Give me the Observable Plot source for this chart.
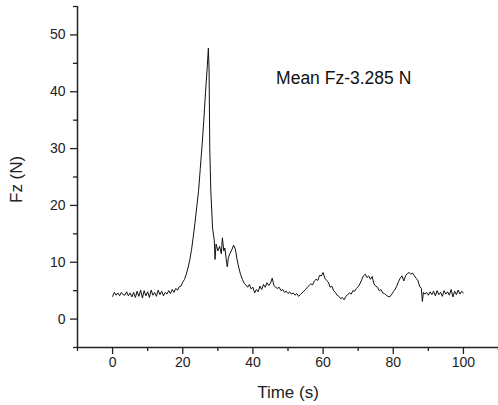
<!DOCTYPE html>
<html><head><meta charset="utf-8">
<script src="https://cdn.jsdelivr.net/npm/d3@7"></script>
<script src="https://cdn.jsdelivr.net/npm/@observablehq/plot@0.6"></script>
<style>body{margin:0;background:#fff} svg{display:block;background:#fff}</style>
</head><body><div id="chart"></div>
<script>
const time = [0,0.5,1,1.5,2,2.5,3,3.5,4,4.5,5,5.5,6,6.5,7,7.5,8,8.5,9,9.5,10,10.5,11,11.5,12,12.5,13,13.5,14,14.5,15,15.5,16,16.5,17,17.5,18,18.5,19,19.5,20,20.5,21,21.5,22,22.5,23,23.5,24,24.5,25,25.5,26,26.5,27,27.3,27.5,27.7,28,28.5,29,29.2,29.5,30,30.5,31,31.3,31.7,32,32.5,32.7,33,33.5,34,34.5,35,35.5,36,36.5,37,37.5,38,38.5,39,39.5,40,40.5,41,41.5,42,42.5,43,43.5,44,44.5,45,45.5,46,46.5,47,47.5,48,48.5,49,49.5,50,50.5,51,51.5,52,52.5,53,53.5,54,54.5,55,55.5,56,56.5,57,57.5,58,58.5,59,59.5,60,60.5,61,61.5,62,62.5,63,63.5,64,64.5,65,65.5,66,66.5,67,67.5,68,68.5,69,69.5,70,70.5,71,71.5,72,72.5,73,73.5,74,74.5,75,75.5,76,76.5,77,77.5,78,78.5,79,79.5,80,80.5,81,81.5,82,82.5,83,83.5,84,84.5,85,85.5,86,86.5,87,87.5,88,88.3,88.6,89,89.5,90,90.5,91,91.5,92,92.5,93,93.5,94,94.5,95,95.5,96,96.5,97,97.5,98,98.5,99,99.5,100];
const fz = [4.0,4.7,4.2,4.6,4.1,4.7,4.3,4.2,4.8,4.1,4.6,3.9,4.7,3.8,4.9,4.0,5.1,3.7,5.0,4.1,4.8,3.8,5.1,4.2,4.7,4.0,5.1,4.3,4.9,4.1,4.7,4.4,5.0,4.5,5.2,4.7,5.4,5.1,5.7,5.8,6.5,7.0,7.9,9.0,10.4,12.2,14.5,17.0,19.8,22.5,26.5,30.5,35.0,40.0,44.5,47.7,44.0,30.0,22.5,16.0,13.8,10.5,13.2,12.0,12.8,11.5,14.3,12.0,12.5,10.0,9.2,10.8,11.6,12.2,13.0,12.3,10.4,9.0,7.8,7.0,6.3,6.0,5.6,6.1,5.3,5.6,4.6,5.2,4.8,5.8,5.2,6.1,5.6,6.4,5.9,6.3,7.2,5.9,5.6,5.4,5.6,5.0,5.2,4.7,4.9,4.5,4.8,4.4,4.6,4.2,4.5,4.0,4.3,4.6,4.9,5.2,5.6,5.9,6.2,6.0,6.7,7.0,6.8,7.7,7.6,8.2,7.2,6.8,6.5,5.6,5.8,5.0,4.7,4.2,4.0,3.6,3.8,3.4,4.0,4.3,4.6,4.4,5.0,4.9,5.4,5.7,6.2,6.9,7.6,7.9,7.3,7.6,7.0,7.5,6.2,5.8,5.6,5.0,5.2,4.6,4.5,4.2,4.0,3.9,4.3,4.8,5.2,5.8,6.6,7.2,7.6,6.7,7.6,8.0,8.2,7.9,8.1,7.6,7.2,6.8,5.8,5.4,3.1,4.7,4.4,4.7,4.2,4.8,4.3,4.9,4.1,5.0,4.3,4.7,4.0,5.0,4.4,4.8,4.2,5.2,3.9,4.9,4.3,5.1,4.4,4.9,4.6];
const xDomain = [-10, 110];
const yDomain = [-5, 55];
const xMajor = [0, 20, 40, 60, 80, 100];
const xMinor = [-10, 10, 30, 50, 70, 90, 110];
const yMajor = [0, 10, 20, 30, 40, 50];
const yMinor = [-5, 5, 15, 25, 35, 45, 55];
const xLabel = "Time (s)";
const yLabel = "Fz (N)";
const noteText = "Mean Fz-3.285 N";
const noteTime = [46.6];
const noteFz = [42.4];

const data = time.map((t, i) => ({t, v: fz[i]}));
const font = "'Liberation Sans', Arial, sans-serif";
const ink = "#222";

const plot = Plot.plot({
  width: 498,
  height: 405,
  marginLeft: 77,
  marginRight: 0,
  marginTop: 6,
  marginBottom: 58,
  style: {fontFamily: font, fontSize: "14px", color: ink, background: "#fff", overflow: "visible"},
  x: {domain: xDomain, axis: null},
  y: {domain: yDomain, axis: null},
  marks: [
    Plot.lineY(data, {x: "t", y: "v", stroke: "#111", strokeWidth: 1}),
    Plot.axisX(xMajor, {tickSize: 7, tickPadding: 3, stroke: ink, strokeWidth: 1.3, label: null, fontSize: 14, fill: ink}),
    Plot.axisX(xMinor, {tickSize: 4, tickFormat: () => "", stroke: ink, strokeWidth: 1.3, label: null}),
    Plot.axisY(yMajor, {tickSize: 7, tickPadding: 5, stroke: ink, strokeWidth: 1.3, label: null, fontSize: 14, fill: ink}),
    Plot.axisY(yMinor, {tickSize: 4, tickFormat: () => "", stroke: ink, strokeWidth: 1.3, label: null}),
    Plot.ruleY([yDomain[0]], {stroke: ink, strokeWidth: 1.5}),
    Plot.ruleX([xDomain[0]], {stroke: ink, strokeWidth: 1.5}),
    Plot.text([xLabel], {frameAnchor: "bottom", dy: 45, lineAnchor: "middle", fontSize: 17, fill: ink, text: d => d}),
    Plot.text([yLabel], {frameAnchor: "left", dx: -61, dy: 26, rotate: -90, lineAnchor: "middle", fontSize: 17, fill: ink, text: d => d}),
    Plot.text([noteText], {x: noteTime, y: noteFz, text: d => d, textAnchor: "start", lineAnchor: "middle", fontSize: 17.5, fill: "#111"})
  ]
});
document.getElementById("chart").append(plot);
</script>
</body></html>
